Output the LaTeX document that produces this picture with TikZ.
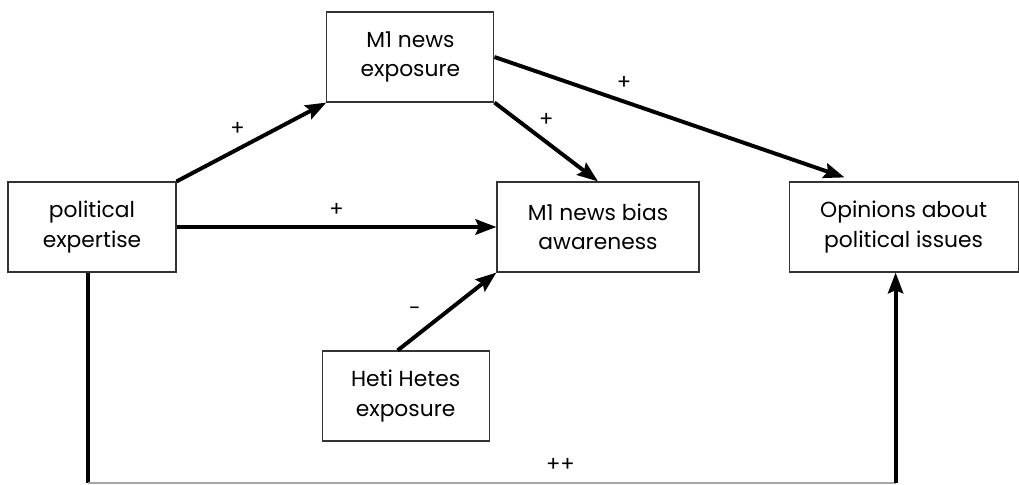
\documentclass[tikz,border=0pt]{standalone}
\usepackage{fontspec}
\setmainfont{Poppins}
\usetikzlibrary{arrows.meta}

\begin{document}
\begin{tikzpicture}[
		bigbox/.style={rectangle,draw=black!80,line width=0.8pt,align=center,
		minimum height=2.25cm,font=\fontsize{15.5}{21}\selectfont},
		effect/.style={-{Stealth[length=5.2mm,width=3.8mm,inset=0.8mm]},line width=2.8pt},
		sign/.style={font=\fontsize{15}{17}\selectfont}
		]
		\useasboundingbox (0,0) rectangle (25.475,12.125);

		\node[bigbox, minimum width=4.2cm](P) at (2.3,6.45){political\\expertise};
		\node[bigbox, minimum width=5.05cm, right of = P, xshift = 11.65cm](B){M1 news bias\\awareness};
		\node[bigbox, minimum width=5.725cm, right of = B, xshift = 6.64cm](O){Opinions about\\political issues};
		\node[bigbox, minimum width=4.175cm, above of = B, xshift = -4.69cm, yshift = 3.25cm](E){M1 news\\exposure};
		\node[bigbox, minimum width=4.175cm, below of = B, xshift = -4.81cm, yshift = -3.225cm](H){Heti Hetes\\exposure};
		\coordinate[below of = P, xshift = -0.1cm, yshift = -5.4cm](PB);
		\coordinate[below of = O, xshift = -0.2cm, yshift = -5.4cm](OB);

		\draw[effect] (P.north east) --(E.south west) node [midway, above left, sign]{+};
		\draw[effect] (P.east) --(B.west) node [midway, above=3pt, sign]{+};
		\draw[effect] (E.south east) --(B.north) node [midway, above=6pt, sign]{+};
		\draw[effect] (E.east) --([xshift=1.4cm, yshift=0.1cm]O.north west) node [pos=0.37, above=4pt, sign]{+};
		\draw[effect] ([xshift=-0.2cm]H.north) --(B.south west) node [midway, left=14pt, sign]{-};
		\draw[line width=2.8pt] (PB |- P.south) --(PB);
		\draw[black!35, line width=1pt] (PB) --(OB) node [pos=0.585, above=4pt, sign, black]{++};
		\draw[effect] (OB) --(OB |- O.south);

	\end{tikzpicture}
\end{document}
